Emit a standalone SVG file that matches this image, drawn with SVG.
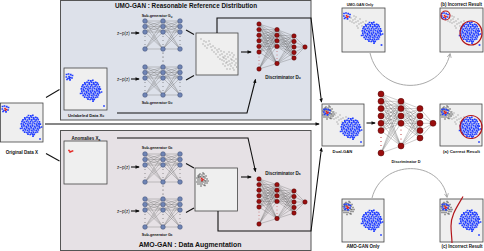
<svg xmlns="http://www.w3.org/2000/svg" xmlns:xlink="http://www.w3.org/1999/xlink" width="484" height="251" viewBox="0 0 484 251">
<style>
text{font-family:"Liberation Sans",Arial,sans-serif;fill:#111}
.b{font-weight:bold}
.title{font-weight:bold}
.box{fill:#efefef;stroke:#444;stroke-width:0.8}
.pb{fill:none;stroke:#1f3cff;stroke-width:1.7;stroke-linecap:square}
.pr{fill:none;stroke:#e3211c;stroke-width:1.6;stroke-linecap:square}
.pg{fill:none;stroke:#8c8c8c;stroke-width:1.1;stroke-linecap:square}
.pgb{fill:none;stroke:#6e6e6e;stroke-width:1.3;stroke-linecap:square}
.ge{fill:none;stroke:#6a6a6a;stroke-width:0.35}
.gn{fill:#6f84b4;stroke:#3a4a72;stroke-width:0.5}
.de{fill:none;stroke:#555;stroke-width:0.3}
.dn{fill:#9a0e0e;stroke:#4d0000;stroke-width:0.5}
.red{fill:none;stroke:#b3161b;stroke-width:1.2}
.con{fill:none;stroke:#111;stroke-width:1.1}
.gcurve{fill:none;stroke:#a9a9a9;stroke-width:1}
</style>
<defs>
<marker id="ah" viewBox="0 0 10 10" refX="8" refY="5" markerWidth="4" markerHeight="4" orient="auto"><path d="M0 1L10 5L0 9z" fill="#111"/></marker>
<marker id="ahg" viewBox="0 0 10 10" refX="8" refY="5" markerWidth="5" markerHeight="5" orient="auto"><path d="M1 1L9 5L1 9" fill="none" stroke="#999" stroke-width="1.4"/></marker>
<path id="bigc" class="pb" d="M-2.5 -9.5h.01M-0.2 -9.2h.01M1.8 -9.6h.01M-6.2 -7.2h.01M-4 -7.6h.01M-1.9 -7.1h.01M0.4 -7.5h.01M2.5 -7.2h.01M4.6 -7.7h.01M6.3 -7h.01M-8 -5.1h.01M-5.8 -5.6h.01M-3.5 -5h.01M-1.4 -5.5h.01M0.8 -5.1h.01M3 -5.6h.01M5.1 -5.2h.01M7.2 -5.4h.01M-9 -3.3h.01M-6.9 -2.9h.01M-4.6 -3.5h.01M-2.6 -3h.01M-0.3 -3.4h.01M1.9 -3h.01M4 -3.5h.01M6.2 -3h.01M8.4 -3.2h.01M-9.6 -1.2h.01M-7.5 -0.8h.01M-5.2 -1.3h.01M-3.1 -0.9h.01M-1 -1.3h.01M1.2 -1h.01M3.4 -1.4h.01M5.5 -0.9h.01M7.6 -1.2h.01M9.3 -0.8h.01M-9.2 1.2h.01M-7 0.8h.01M-4.8 1.3h.01M-2.7 0.9h.01M-0.5 1.2h.01M1.6 0.8h.01M3.8 1.3h.01M6 0.9h.01M8.1 1.2h.01M-8.7 3h.01M-6.4 3.4h.01M-4.2 2.9h.01M-2.1 3.3h.01M0.1 2.9h.01M2.3 3.4h.01M4.4 3h.01M6.6 3.3h.01M8.6 2.9h.01M-7.8 5.3h.01M-5.6 4.9h.01M-3.4 5.4h.01M-1.3 5h.01M0.9 5.4h.01M3 5h.01M5.2 5.3h.01M7.3 5h.01M-6.3 7.2h.01M-4.1 7.5h.01M-1.9 7.1h.01M0.2 7.6h.01M2.4 7.2h.01M4.6 7.5h.01M6.5 7h.01M-3 9.2h.01M-0.8 9.5h.01M1.4 9.1h.01M3.2 9.4h.01M10.5 2h.01M-10.4 3.5h.01M2 11.2h.01"/>
<path id="smb" class="pb" d="M-3 -2.5h.01M-1 -3h.01M1.2 -2.4h.01M3 -1.5h.01M-3.2 0h.01M-1.5 1.5h.01M2.5 1h.01M-2.5 2.5h.01M0.5 2.8h.01"/>
<path id="smr" class="pr" d="M-0.5 -0.5h.01M1 0.5h.01M0 1.2h.01"/>
<path id="smrb" class="pb" d="M-0.5 -0.5h.01M1 0.5h.01M0 1.2h.01"/>
<path id="lone" class="pb" d="M0 0h.01"/>
<path id="gblob" class="pgb" d="M-4 -3h.01M-2 -5h.01M0 -4h.01M2 -5h.01M4 -3h.01M-5 -1h.01M-3 -1h.01M-1 -2h.01M1 -2h.01M3 -1h.01M5 0h.01M-4 1h.01M-2 1h.01M0 0h.01M2 1h.01M4 2h.01M-3 3h.01M-1 3h.01M1 3h.01M3 4h.01M-2 5h.01M0 5h.01M2 6h.01M5 4h.01M-5 3h.01M1 -6h.01M-1 7h.01M3 6.5h.01M-3 -4h.01M6 2h.01M-4 5h.01M0 2h.01M-2 -2.5h.01M2 -2.5h.01M3 2h.01M-3.5 -2h.01"/>
<path id="gdiag" class="pg" d="M5 6h.01M8 8h.01M7 11h.01M10 9h.01M12 12h.01M11 15h.01M14 11h.01M15 14h.01M17 13h.01M16 17h.01M19 15h.01M18 19h.01M21 17h.01M20 21h.01M23 16h.01M22 19h.01M24 22h.01M25 18h.01M26 21h.01M27 24h.01M28 19h.01M29 23h.01M30 26h.01M31 21h.01M32 24h.01M33 28h.01M34 22h.01M35 26h.01M36 30h.01M37 24h.01M38 28h.01M39 32h.01M30 30h.01M32 32h.01M35 33h.01M37 35h.01M40 26h.01M40 30h.01M28 28h.01M26 27h.01M33 19h.01M36 20h.01M29 33h.01M31 36h.01M34 36h.01M38 37h.01M24 26h.01M27 31h.01M22 24h.01M38 22h.01M40.5 34h.01M13 8h.01M9 13h.01M34 31h.01M31 29h.01M36 27h.01M28 25h.01"/>
<path id="gd2" class="pg" d="M9 10h.01M11 12h.01M13 11h.01M14 14h.01M16 13h.01M17 16h.01M19 15h.01M12 15h.01M15 18h.01M20 18h.01M21 14h.01M18 11h.01M23 16h.01M10 14h.01M22 20h.01M16 20h.01M24 13h.01M14 9h.01M8 13h.01M12 8h.01"/>
<g id="gen">
<path class="ge" d="M0 0L18 0M0 0L18 5.5M0 0L18 11M0 0L18 28M0 5.5L18 0M0 5.5L18 5.5M0 5.5L18 11M0 5.5L18 28M0 11L18 0M0 11L18 5.5M0 11L18 11M0 11L18 28M0 28L18 0M0 28L18 5.5M0 28L18 11M0 28L18 28M18 0L35 0M18 0L35 5.5M18 0L35 11M18 0L35 28M18 5.5L35 0M18 5.5L35 5.5M18 5.5L35 11M18 5.5L35 28M18 11L35 0M18 11L35 5.5M18 11L35 11M18 11L35 28M18 28L35 0M18 28L35 5.5M18 28L35 11M18 28L35 28"/>
<g fill="#333"><circle cx="0" cy="15.5" r="0.45"/><circle cx="0" cy="19.5" r="0.45"/><circle cx="0" cy="23.5" r="0.45"/><circle cx="18" cy="15.5" r="0.45"/><circle cx="18" cy="19.5" r="0.45"/><circle cx="18" cy="23.5" r="0.45"/><circle cx="35" cy="15.5" r="0.45"/><circle cx="35" cy="19.5" r="0.45"/><circle cx="35" cy="23.5" r="0.45"/></g>
<g class="gn"><circle cx="0" cy="0" r="2.3"/><circle cx="0" cy="5.5" r="2.3"/><circle cx="0" cy="11" r="2.3"/><circle cx="0" cy="28" r="2.3"/><circle cx="18" cy="0" r="2.3"/><circle cx="18" cy="5.5" r="2.3"/><circle cx="18" cy="11" r="2.3"/><circle cx="18" cy="28" r="2.3"/><circle cx="35" cy="0" r="2.3"/><circle cx="35" cy="5.5" r="2.3"/><circle cx="35" cy="11" r="2.3"/><circle cx="35" cy="28" r="2.3"/></g>
</g>
<g id="dsm">
<path class="de" d="M0 0L18 5.6M0 0L18 11.2M0 0L18 16.8M0 0L18 22.4M0 0L18 39.5M0 5.6L18 5.6M0 5.6L18 11.2M0 5.6L18 16.8M0 5.6L18 22.4M0 5.6L18 39.5M0 11.2L18 5.6M0 11.2L18 11.2M0 11.2L18 16.8M0 11.2L18 22.4M0 11.2L18 39.5M0 16.8L18 5.6M0 16.8L18 11.2M0 16.8L18 16.8M0 16.8L18 22.4M0 16.8L18 39.5M0 22.4L18 5.6M0 22.4L18 11.2M0 22.4L18 16.8M0 22.4L18 22.4M0 22.4L18 39.5M0 28L18 5.6M0 28L18 11.2M0 28L18 16.8M0 28L18 22.4M0 28L18 39.5M0 45L18 5.6M0 45L18 11.2M0 45L18 16.8M0 45L18 22.4M0 45L18 39.5M18 5.6L35 12M18 5.6L35 17.5M18 5.6L35 23M18 5.6L35 28.5M18 5.6L35 34M18 11.2L35 12M18 11.2L35 17.5M18 11.2L35 23M18 11.2L35 28.5M18 11.2L35 34M18 16.8L35 12M18 16.8L35 17.5M18 16.8L35 23M18 16.8L35 28.5M18 16.8L35 34M18 22.4L35 12M18 22.4L35 17.5M18 22.4L35 23M18 22.4L35 28.5M18 22.4L35 34M18 39.5L35 12M18 39.5L35 17.5M18 39.5L35 23M18 39.5L35 28.5M18 39.5L35 34M35 12L46 23M35 17.5L46 23M35 23L46 23M35 28.5L46 23M35 34L46 23"/>
<g fill="#b02020"><circle cx="0" cy="33" r="0.45"/><circle cx="0" cy="36.5" r="0.45"/><circle cx="0" cy="40" r="0.45"/><circle cx="18" cy="27.5" r="0.45"/><circle cx="18" cy="31" r="0.45"/><circle cx="18" cy="34.5" r="0.45"/></g>
<g class="dn"><circle cx="0" cy="0" r="2.2"/><circle cx="0" cy="5.6" r="2.2"/><circle cx="0" cy="11.2" r="2.2"/><circle cx="0" cy="16.8" r="2.2"/><circle cx="0" cy="22.4" r="2.2"/><circle cx="0" cy="28" r="2.2"/><circle cx="0" cy="45" r="2.2"/><circle cx="18" cy="5.6" r="2.2"/><circle cx="18" cy="11.2" r="2.2"/><circle cx="18" cy="16.8" r="2.2"/><circle cx="18" cy="22.4" r="2.2"/><circle cx="18" cy="39.5" r="2.2"/><circle cx="35" cy="12" r="2.2"/><circle cx="35" cy="17.5" r="2.2"/><circle cx="35" cy="23" r="2.2"/><circle cx="35" cy="28.5" r="2.2"/><circle cx="35" cy="34" r="2.2"/><circle cx="46" cy="23" r="2.2"/></g>
</g>
</defs>

<rect width="484" height="251" fill="#fff"/>

<g id="umo-gan-panel">
<rect x="60.5" y="0.5" width="250.5" height="119.5" fill="#dde1ea" stroke="#555" stroke-width="1"/>
<text class="title" x="186" y="8.2" font-size="6.35" text-anchor="middle">UMO-GAN : Reasonable Reference Distribution</text>
</g>
<g id="amo-gan-panel">
<rect x="60.5" y="130.5" width="250.5" height="120" fill="#e6e1e5" stroke="#555" stroke-width="1"/>
<text class="title" x="190" y="247" font-size="6.9" text-anchor="middle">AMO-GAN : Data Augmentation</text>
</g>

<g id="original-data">
<rect class="box" x="0.5" y="103" width="42.5" height="39"/>
<use href="#smb" x="5.5" y="109"/><use href="#smr" x="5.5" y="109"/>
<use href="#bigc" x="31" y="125"/><use href="#lone" x="40" y="139"/>
<text class="b" x="22" y="153.5" font-size="4.5" text-anchor="middle">Original Data X</text>
</g>

<g id="unlabeled-data">
<rect class="box" x="64" y="68" width="43" height="42"/>
<use href="#smb" x="69.5" y="77"/><use href="#smrb" x="69.5" y="77"/>
<use href="#bigc" x="91" y="90"/><use href="#lone" x="104" y="106"/>
<text class="b" x="86" y="116.5" font-size="4.2" text-anchor="middle">Unlabeled Data X<tspan font-size="3" dy="0.8">u</tspan></text>
</g>

<g id="anomalies">
<rect class="box" x="64" y="141" width="43" height="43"/>
<path class="pr" d="M69 150.5h.01M71 151.5h.01M72.5 151h.01M70 152h.01"/>
<text class="b" x="86" y="139.7" font-size="4.5" text-anchor="middle">Anomalies X<tspan font-size="3.2" dy="0.8">a</tspan></text>
</g>

<g id="umo-generators">
<text x="117" y="34.6" font-size="4.5">z~p(z)</text>
<text x="117" y="80.6" font-size="4.5">z~p(z)</text>
<text class="b" x="157" y="17" font-size="3.7" text-anchor="middle">Sub-generator G<tspan font-size="2.7" dy="0.7">u</tspan></text>
<use href="#gen" x="145" y="21"/>
<g fill="#333"><circle cx="163" cy="53" r="0.5"/><circle cx="163" cy="57" r="0.5"/><circle cx="163" cy="61" r="0.5"/></g>
<use href="#gen" x="145" y="67"/>
<text class="b" x="157" y="103.5" font-size="3.7" text-anchor="middle">Sub-generator G<tspan font-size="2.7" dy="0.7">u</tspan></text>
</g>

<g id="amo-generators">
<text x="117" y="168.6" font-size="4.5">z~p(z)</text>
<text x="117" y="212.6" font-size="4.5">z~p(z)</text>
<text class="b" x="157" y="148.5" font-size="3.7" text-anchor="middle">Sub-generator G<tspan font-size="2.7" dy="0.7">a</tspan></text>
<use href="#gen" x="145" y="154"/>
<g fill="#333"><circle cx="163" cy="186" r="0.5"/><circle cx="163" cy="190" r="0.5"/><circle cx="163" cy="194" r="0.5"/></g>
<use href="#gen" x="145" y="199"/>
<text class="b" x="157" y="235.5" font-size="3.7" text-anchor="middle">Sub-generator G<tspan font-size="2.7" dy="0.7">a</tspan></text>
</g>

<g id="umo-generated">
<rect class="box" x="196" y="33" width="42" height="42"/>
<use href="#gdiag" x="196" y="33"/>
</g>

<g id="amo-generated">
<rect class="box" x="195" y="168" width="42.5" height="43"/>
<use href="#gblob" x="202" y="179"/>
<path class="pr" d="M201.5 178.5h.01M203 179.5h.01M202 180.5h.01"/>
</g>

<g id="discriminator-du">
<use href="#dsm" x="259" y="24"/>
<text class="b" x="283" y="78.5" font-size="4.5" text-anchor="middle">Discriminator D<tspan font-size="3.2" dy="0.8">u</tspan></text>
</g>

<g id="discriminator-da">
<text class="b" x="283" y="174.5" font-size="4.5" text-anchor="middle">Discriminator D<tspan font-size="3.2" dy="0.8">a</tspan></text>
<use href="#dsm" x="259" y="179"/>
</g>

<g id="umo-gan-only">
<rect class="box" x="342" y="8" width="43" height="44"/>
<use href="#gd2" x="342" y="8"/>
<use href="#smb" x="347" y="16"/><use href="#smr" x="347" y="16"/>
<use href="#bigc" x="372" y="32"/><use href="#lone" x="381.5" y="45"/>
<text class="b" x="360" y="5.8" font-size="3.6" text-anchor="middle">UMO-GAN Only</text>
</g>

<g id="result-b">
<rect class="box" x="440" y="8" width="43" height="44"/>
<use href="#gd2" x="440" y="8"/>
<use href="#smb" x="445" y="16"/><use href="#smr" x="445" y="16"/>
<use href="#bigc" x="470" y="32"/><use href="#lone" x="479.5" y="45"/>
<circle class="red" cx="445.5" cy="15.5" r="4.5"/>
<ellipse class="red" cx="471" cy="33" rx="11" ry="12"/>
<text class="b" x="461.5" y="5.8" font-size="4.5" text-anchor="middle">(b) Incorrect Result</text>
</g>

<g id="dual-gan">
<rect class="box" x="322" y="104" width="42" height="42"/>
<use href="#gblob" x="328" y="112"/>
<use href="#gd2" x="322" y="104"/>
<use href="#smb" x="327" y="112"/><use href="#smr" x="327" y="112"/>
<use href="#bigc" x="351" y="128"/><use href="#lone" x="361" y="142"/>
<text class="b" x="342.5" y="152.7" font-size="4.2" text-anchor="middle">Dual-GAN</text>
</g>

<g id="discriminator-d">
<path class="de" d="M381 94L401 101.3M381 94L401 108.6M381 94L401 116M381 94L401 123.3M381 94L401 146M381 101.3L401 101.3M381 101.3L401 108.6M381 101.3L401 116M381 101.3L401 123.3M381 101.3L401 146M381 108.6L401 101.3M381 108.6L401 108.6M381 108.6L401 116M381 108.6L401 123.3M381 108.6L401 146M381 116L401 101.3M381 116L401 108.6M381 116L401 116M381 116L401 123.3M381 116L401 146M381 123.3L401 101.3M381 123.3L401 108.6M381 123.3L401 116M381 123.3L401 123.3M381 123.3L401 146M381 130.6L401 101.3M381 130.6L401 108.6M381 130.6L401 116M381 130.6L401 123.3M381 130.6L401 146M381 153L401 101.3M381 153L401 108.6M381 153L401 116M381 153L401 123.3M381 153L401 146M401 101.3L420 108.6M401 101.3L420 116M401 101.3L420 123.3M401 101.3L420 130.6M401 101.3L420 138M401 108.6L420 108.6M401 108.6L420 116M401 108.6L420 123.3M401 108.6L420 130.6M401 108.6L420 138M401 116L420 108.6M401 116L420 116M401 116L420 123.3M401 116L420 130.6M401 116L420 138M401 123.3L420 108.6M401 123.3L420 116M401 123.3L420 123.3M401 123.3L420 130.6M401 123.3L420 138M401 146L420 108.6M401 146L420 116M401 146L420 123.3M401 146L420 130.6M401 146L420 138M420 108.6L433 123.3M420 116L433 123.3M420 123.3L433 123.3M420 130.6L433 123.3M420 138L433 123.3"/>
<g fill="#b02020"><circle cx="381" cy="137.5" r="0.55"/><circle cx="381" cy="141.5" r="0.55"/><circle cx="381" cy="145.5" r="0.55"/><circle cx="401" cy="130" r="0.55"/><circle cx="401" cy="134.5" r="0.55"/><circle cx="401" cy="139" r="0.55"/></g>
<g class="dn"><circle cx="381" cy="94" r="3"/><circle cx="381" cy="101.3" r="3"/><circle cx="381" cy="108.6" r="3"/><circle cx="381" cy="116" r="3"/><circle cx="381" cy="123.3" r="3"/><circle cx="381" cy="130.6" r="3"/><circle cx="381" cy="153" r="3"/><circle cx="401" cy="101.3" r="3"/><circle cx="401" cy="108.6" r="3"/><circle cx="401" cy="116" r="3"/><circle cx="401" cy="123.3" r="3"/><circle cx="401" cy="146" r="3"/><circle cx="420" cy="108.6" r="3"/><circle cx="420" cy="116" r="3"/><circle cx="420" cy="123.3" r="3"/><circle cx="420" cy="130.6" r="3"/><circle cx="420" cy="138" r="3"/><circle cx="433" cy="123.3" r="3"/></g>
<text class="b" x="406" y="162.8" font-size="3.9" text-anchor="middle">Discriminator D</text>
</g>

<g id="result-a">
<rect class="box" x="440" y="104" width="42" height="42"/>
<use href="#gblob" x="446" y="112"/>
<use href="#gd2" x="440" y="104"/>
<use href="#smb" x="445" y="112"/><use href="#smr" x="445" y="112"/>
<use href="#bigc" x="470" y="127"/><use href="#lone" x="479" y="142"/>
<ellipse class="red" cx="471" cy="127" rx="11" ry="11.5"/>
<text class="b" x="461.5" y="152.7" font-size="4.4" text-anchor="middle">(a) Correct Result</text>
</g>

<g id="amo-gan-only">
<rect class="box" x="342" y="199" width="42" height="43"/>
<use href="#gblob" x="348" y="207.5"/>
<use href="#smb" x="347.5" y="207"/><use href="#smr" x="347.5" y="207"/>
<use href="#bigc" x="372" y="220"/><use href="#lone" x="381" y="235"/>
<text class="b" x="363" y="247.5" font-size="4.5" text-anchor="middle">AMO-GAN Only</text>
</g>

<g id="result-c">
<rect class="box" x="440" y="199" width="43" height="43"/>
<use href="#gblob" x="446" y="207.5"/>
<use href="#smb" x="445.5" y="207"/><use href="#smr" x="445.5" y="207"/>
<use href="#bigc" x="470" y="220"/><use href="#lone" x="479" y="235"/>
<path class="red" d="M463 196.5C457 207 451 215 451 226C451 233 452 238 452 243"/>
<text class="b" x="462" y="247.5" font-size="4.5" text-anchor="middle">(c) Incorrect Result</text>
</g>

<g id="connectors">
<path class="con" d="M46 97.5L59.5 89.5"/>
<path class="con" d="M46 153.5L59.5 161"/>
<path class="con" d="M45 124H319" marker-end="url(#ah)"/>
<path class="con" d="M131 33H139" marker-end="url(#ah)"/>
<path class="con" d="M131 79H139" marker-end="url(#ah)"/>
<path class="con" d="M131 167H139" marker-end="url(#ah)"/>
<path class="con" d="M131 211H139" marker-end="url(#ah)"/>
<path class="con" d="M186 30L194 34.5"/>
<path class="con" d="M186 80L194 75.5"/>
<path class="con" d="M186 163.5L194 168"/>
<path class="con" d="M186 212.5L194 208"/>
<path class="con" d="M117 113H247L255.5 79.5" marker-end="url(#ah)"/>
<path class="con" d="M117 138H248L255.5 171.5" marker-end="url(#ah)"/>
<path class="con" d="M217 33V18H311L321.5 102" marker-end="url(#ah)"/>
<path class="con" d="M218 211V231H311L321.5 148" marker-end="url(#ah)"/>
<path class="con" d="M241 52H251" marker-end="url(#ah)"/>
<path class="con" d="M241 177H251" marker-end="url(#ah)"/>
<path class="con" d="M366.5 123H375" marker-end="url(#ah)"/>
<path class="gcurve" d="M370 53C380 96 440 96 450 54" marker-end="url(#ahg)"/>
<path class="gcurve" d="M372 198C382 159 440 159 447 197" marker-end="url(#ahg)"/>
</g>
</svg>
